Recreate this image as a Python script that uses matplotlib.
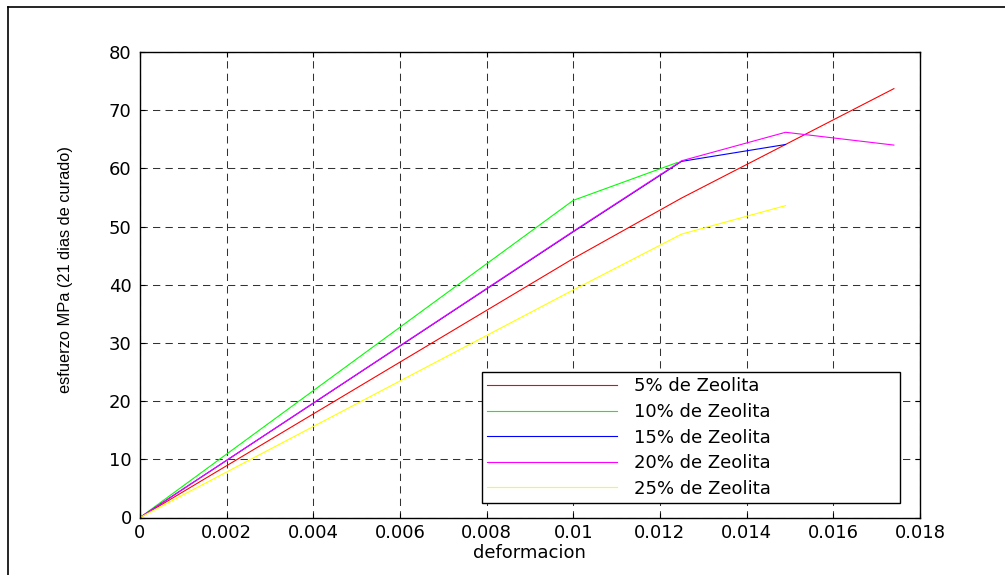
import matplotlib
matplotlib.use("Agg")
import matplotlib.pyplot as plt
from matplotlib.lines import Line2D

# ===============================
# data
# ===============================
x_5 = [0, 0.01, 0.0125, 0.0174]
y_5 = [0, 44.5, 54.9, 73.7]

x_10 = [0, 0.01, 0.0124]
y_10 = [0, 54.5, 61.0]

x_15 = [0, 0.01, 0.0125, 0.0149]
y_15 = [0, 49.1, 61.2, 64.1]

x_20 = [0, 0.01, 0.0125, 0.0149, 0.0174]
y_20 = [0, 49.2, 61.3, 66.2, 64.0]

x_25 = [0, 0.01, 0.0125, 0.0149]
y_25 = [0, 39.1, 48.7, 53.6]

labels = ["5% de Zeolita", "10% de Zeolita", "15% de Zeolita",
          "20% de Zeolita", "25% de Zeolita"]
colors = ["#ff0000", "#00ff00", "#0000ff", "#ff00ff", "#ffff00"]

x_ticks = [0, 0.002, 0.004, 0.006, 0.008, 0.01, 0.012, 0.014, 0.016, 0.018]
x_tick_labels = ["0", "0.002", "0.004", "0.006", "0.008", "0.01",
                 "0.012", "0.014", "0.016", "0.018"]
y_ticks = [0, 10, 20, 30, 40, 50, 60, 70, 80]

# ===============================
# figure
# ===============================
plt.rcParams["font.family"] = "DejaVu Sans"
fig = plt.figure(figsize=(10.05, 5.75), dpi=100)
ax = fig.add_axes([0.1393, 0.1, 0.776, 0.8096])

series = [(x_5, y_5), (x_10, y_10), (x_15, y_15), (x_20, y_20), (x_25, y_25)]
for (xs, ys), c, lab in zip(series, colors, labels):
    ax.plot(xs, ys, color=c, linewidth=0.8, label=lab)

ax.set_xlim(0, 0.018)
ax.set_ylim(0, 80)
ax.set_xticks(x_ticks)
ax.set_xticklabels(x_tick_labels)
ax.set_yticks(y_ticks)
ax.tick_params(direction="in", length=3.6, width=0.8, top=True, right=True,
               labelsize=13, colors="black")
ax.tick_params(axis="x", pad=5)
ax.tick_params(axis="y", pad=6)

ax.grid(True, color="0.2", linestyle=(0, (7, 5)), linewidth=0.75)
for sp in ax.spines.values():
    sp.set_linewidth(1.0)
    sp.set_color("black")

ax.set_xlabel("deformacion", fontsize=13, labelpad=1)
ax.set_ylabel("esfuerzo MPa (21 dias de curado)", fontsize=11.8,
              family="Liberation Sans", va="center")
ax.yaxis.set_label_coords(-0.096, 0.532)

leg = ax.legend(loc="upper left", bbox_to_anchor=(0.4385, 0.027, 0.5355, 0.2856),
                mode="expand", fontsize=13, frameon=True, fancybox=False,
                edgecolor="black", framealpha=1, borderpad=0.3,
                handlelength=7.2, handletextpad=0.9, labelspacing=0.42,
                borderaxespad=0)
leg.get_frame().set_linewidth(1.0)

# outer frame (top and left edges of the original window)
fig.add_artist(Line2D([0.008, 1.0], [0.9878, 0.9878], color="black",
                      linewidth=1.2, transform=fig.transFigure))
fig.add_artist(Line2D([0.008, 0.008], [0.0, 0.9878], color="black",
                      linewidth=1.2, transform=fig.transFigure))

fig.savefig("out.png", dpi=100)
